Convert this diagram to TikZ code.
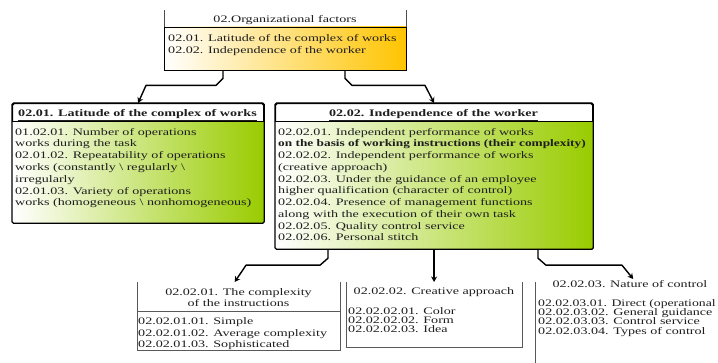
\documentclass[tikz,border=0pt]{standalone}
\usepackage{fontspec}
\usepackage{graphicx}
\setmainfont{Liberation Serif}[FakeStretch=1.41]
\usetikzlibrary{calc,arrows.meta,shadows}
\definecolor{limeg}{HTML}{99CC00}
\definecolor{goldy}{HTML}{FFC400}
\definecolor{txtc}{HTML}{1E1E1E}
\lineskiplimit=-100pt
\newcommand\firstln{\rule{0pt}{9pt}}
\tikzset{
  frame/.style={draw, line width=1.2pt, rounded corners=1.5pt, fill=white, anchor=north west, inner sep=0pt,
    drop shadow={shadow xshift=1pt, shadow yshift=-1.2pt, opacity=.75, fill=black}},
  outline/.style={draw, line width=1.2pt, rounded corners=1.5pt},
  sep/.style={draw, line width=1pt},
  plainbox/.style={anchor=north west, inner sep=0pt},
  openframe/.style={draw=black!65, line width=0.9pt},
  txt/.style={inner sep=0pt, anchor=north west, align=left, text=txtc},
  hdr/.style={inner sep=0pt, anchor=base, text=txtc},
  conn/.style={draw, line width=1.4pt, line join=round, -{Stealth[length=5.5pt,width=6pt]}},
}
\begin{document}
\begin{tikzpicture}[x=1pt, y=-1pt]
\useasboundingbox (0,0) rectangle (718,363);

% ---------- top box ----------
\node[plainbox, minimum width=242pt, minimum height=43pt] (T) at (164,27) {};
\shade[left color=white, right color=goldy] (T.north west) rectangle (T.south east);
\draw[line width=0.9pt] (T.north west) rectangle (T.south east);
\draw[line width=0.7pt, black!70] (T.north west) -- ++(0,-17);
\draw[line width=0.7pt, black!70] (T.north east) -- ++(0,-17);
\node[hdr, font=\fontsize{10}{12}\selectfont] (Th) at (285,23) {02.Organizational factors};
\node[txt, font=\fontsize{10}{12}\selectfont] (Tb) at (168,32)
  {\firstln 02.01. Latitude of the complex of works\\
   02.02. Independence of the worker};

% ---------- left box ----------
\node[frame, minimum width=251pt, minimum height=119pt] (L) at (12,103) {};
\shade[left color=white, right color=limeg] ($(L.north west)+(0.6,19)$) rectangle ($(L.south east)+(-0.6,-0.6)$);
\draw[outline] (L.north west) rectangle (L.south east);
\draw[sep] ($(L.north west)+(0,19)$) -- ($(L.north east)+(0,19)$);
\node[hdr, font=\fontsize{10}{12}\selectfont\bfseries] (Lh) at (137.5,116.5) {\underline{02.01. Latitude of the complex of works}};
\node[txt, font=\fontsize{10}{11.8}\selectfont] (Lb) at (15,126)
  {\firstln 01.02.01. Number of operations\\
   works during the task\\
   02.01.02. Repeatability of operations\\
   works (constantly \textbackslash{} regularly \textbackslash\\
   irregularly\\
   02.01.03. Variety of operations\\
   works (homogeneous \textbackslash{} nonhomogeneous)};

% ---------- right box ----------
\node[frame, minimum width=317pt, minimum height=145pt] (R) at (275,103) {};
\shade[left color=white, right color=limeg] ($(R.north west)+(0.6,19)$) rectangle ($(R.south east)+(-0.6,-0.6)$);
\draw[outline] (R.north west) rectangle (R.south east);
\draw[sep] ($(R.north west)+(0,19)$) -- ($(R.north east)+(0,19)$);
\node[hdr, font=\fontsize{10}{12}\selectfont\bfseries] (Rh) at (433.5,116.5) {\underline{02.02. Independence of the worker}};
\node[txt, font=\fontsize{10}{11.75}\selectfont] (Rb) at (278,126)
  {\firstln 02.02.01. Independent performance of works\\
   \scalebox{0.945}[1]{\bfseries on the basis of working instructions (their complexity)}\\
   02.02.02. Independent performance of works\\
   (creative approach)\\
   02.02.03. Under the guidance of an employee\\
   higher qualification (character of control)\\
   02.02.04. Presence of management functions\\
   along with the execution of their own task\\
   02.02.05. Quality control service\\
   02.02.06. Personal stitch};

% ---------- bottom boxes ----------
\node[plainbox, minimum width=203pt, minimum height=68pt] (C1) at (137,282) {};
\draw[openframe] (C1.north west) -- (C1.south west) -- (C1.south east) -- (C1.north east);
\draw[openframe] ($(C1.north west)+(0,29)$) -- ($(C1.north east)+(0,29)$);
\node[txt, anchor=north, align=center, font=\fontsize{10}{11}\selectfont] (C1h) at (238.5,286)
  {\firstln 02.02.01. The complexity\\ of the instructions};
\node[txt, font=\fontsize{10}{11.2}\selectfont] (C1b) at (138,315.7)
  {\firstln 02.02.01.01. Simple\\
   02.02.01.02. Average complexity\\
   02.02.01.03. Sophisticated};

\node[plainbox, minimum width=176pt, minimum height=65pt] (C2) at (346,282) {};
\draw[openframe] (C2.north west) -- (C2.south west) -- (C2.south east) -- (C2.north east);
\node[hdr, font=\fontsize{10}{12}\selectfont] (C2h) at (434,295) {02.02.02. Creative approach};
\node[txt, font=\fontsize{10}{9.3}\selectfont] (C2b) at (348,305)
  {\firstln 02.02.02.01. Color\\
   02.02.02.02. Form\\
   02.02.02.03. Idea};

\node[plainbox, minimum width=194pt, minimum height=90pt] (C3) at (535,282) {};
\draw[openframe] (C3.north west) -- (C3.south west) -- (C3.south east) -- (C3.north east);
\node[hdr, font=\fontsize{10}{12}\selectfont] (C3h) at (630,288) {02.02.03. Nature of control};
\node[txt, font=\fontsize{10}{9.2}\selectfont] (C3b) at (538,297.3)
  {\firstln \scalebox{0.975}[1]{02.02.03.01. Direct (operational}\\
   02.02.03.02. General guidance\\
   02.02.03.03. Control service\\
   02.02.03.04. Types of control};

% ---------- connectors ----------
\draw[conn] ($(T.south west)+(59,0)$) -- ++(0,8) -- ++(-7,7) -- ++(-70,0) -- (L.north);
\draw[conn] ($(T.south west)+(181,0)$) -- ++(0,8) -- ++(7,7) -- ++(73,0) -- (R.north);
\draw[conn] ($(R.south west)+(53,0)$) -- ++(0,9) -- ++(-8,7) -- ++(-74,0) -- ($(C1.north)+(-4,0)$);
\draw[conn] (R.south) -- (R.south |- C2.north);
\draw[conn] ($(R.south west)+(263,0)$) -- ++(0,9) -- ++(8,7) -- ++(76,0) -- ($(C3.north)+(1,-3)$);
\end{tikzpicture}
\end{document}
